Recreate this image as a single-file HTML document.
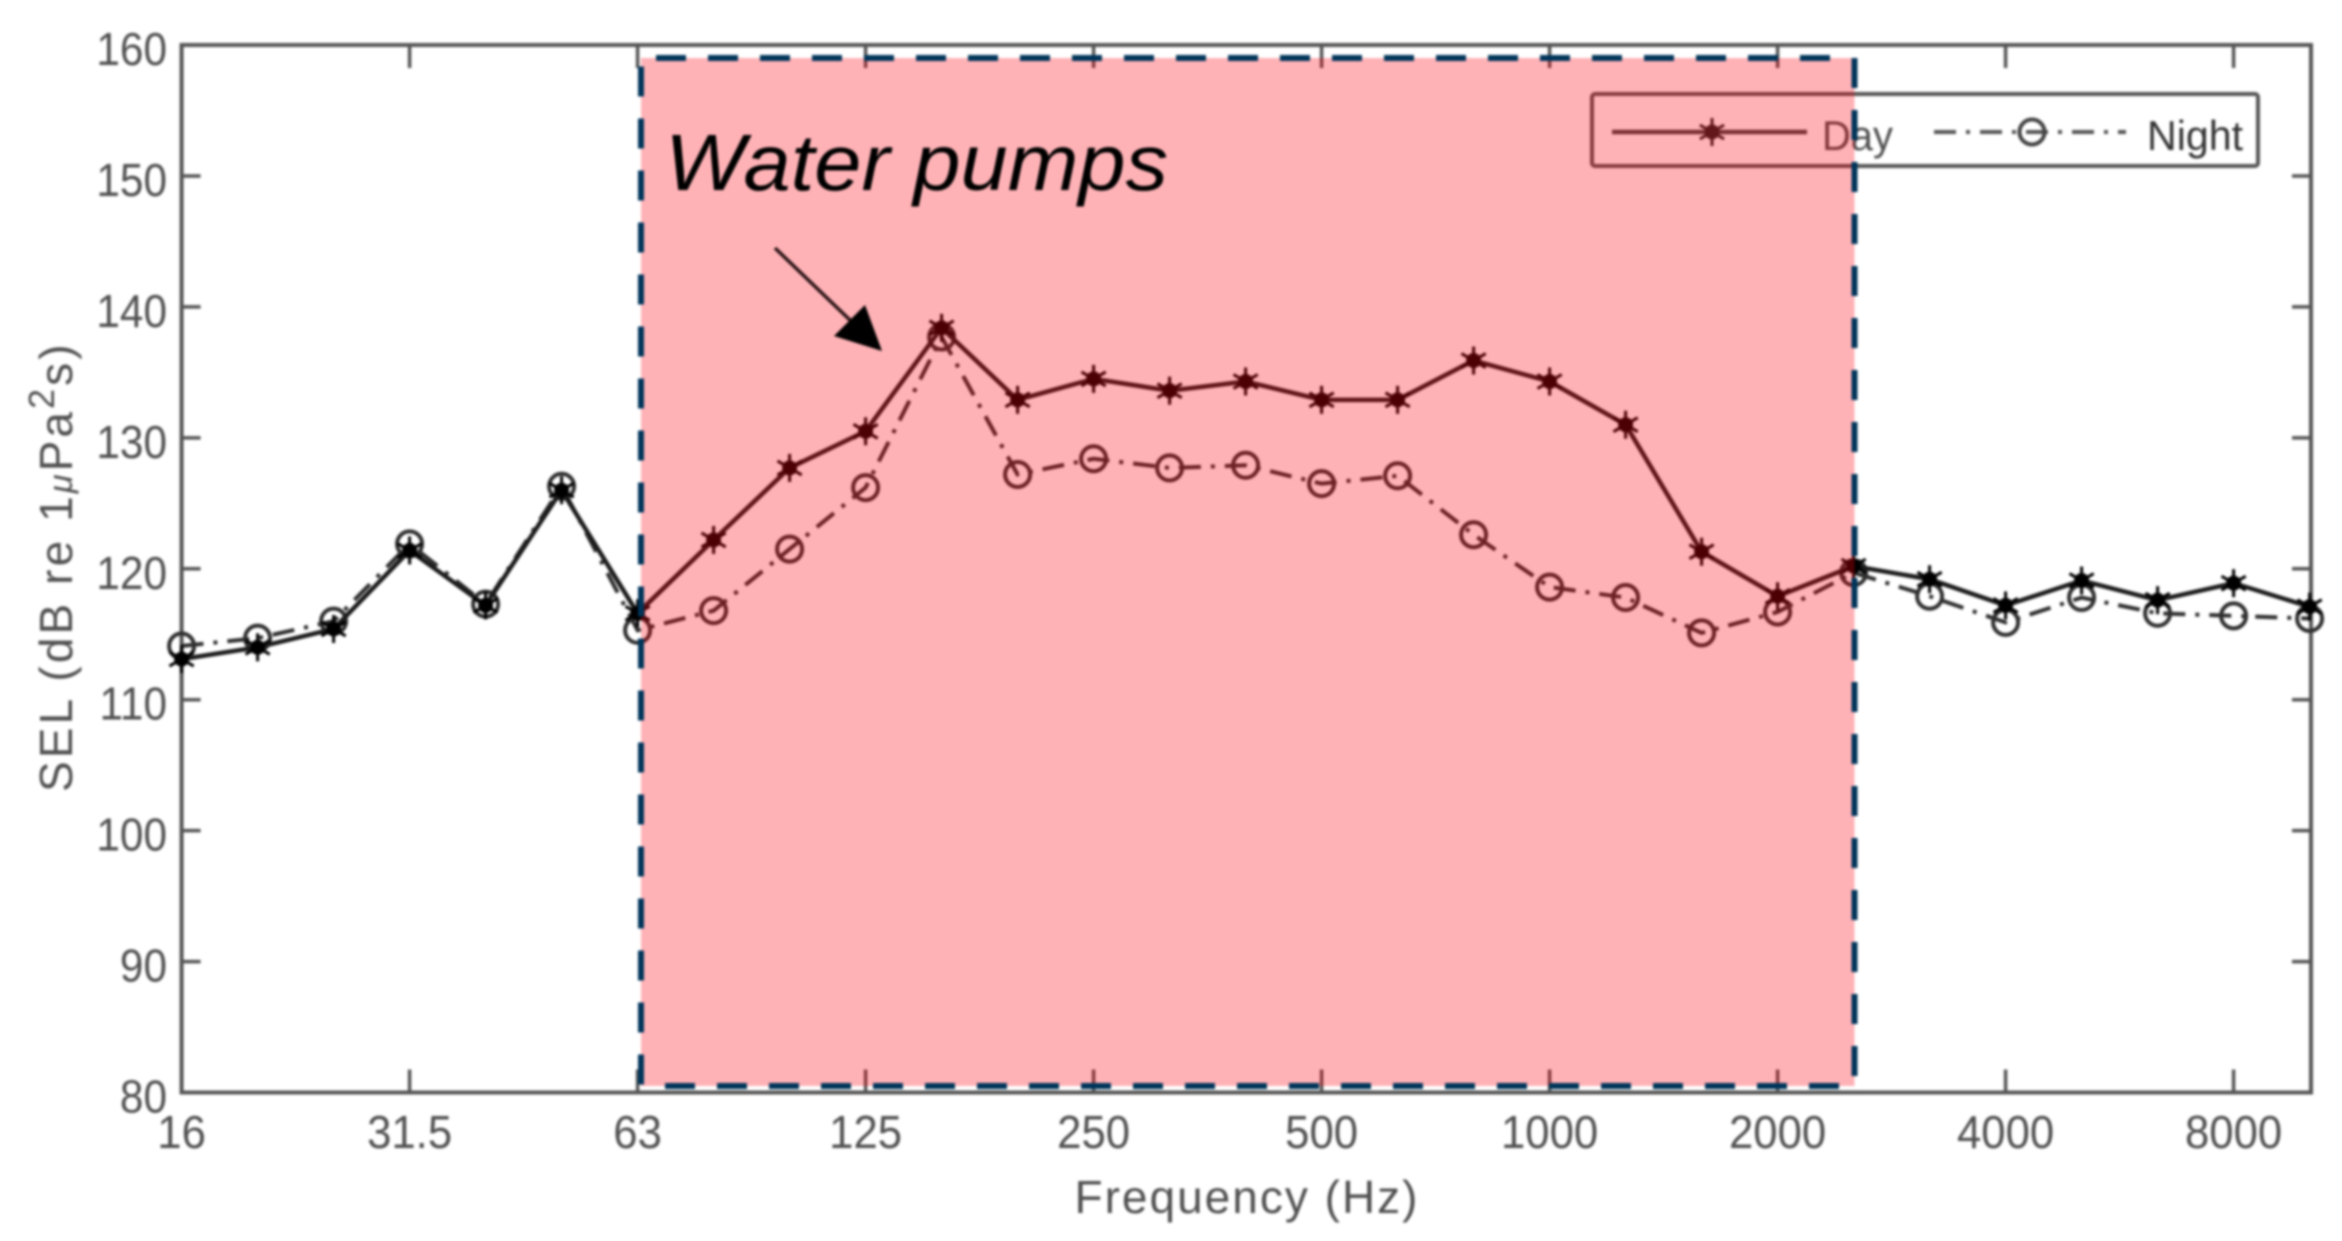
<!DOCTYPE html>
<html lang="en">
<head>
<meta charset="utf-8">
<title>SEL by frequency, day and night</title>
<style>
html,body{margin:0;padding:0;background:#fff;width:2342px;height:1241px;overflow:hidden}
svg{display:block;filter:blur(1.3px)}
text{font-family:"Liberation Sans",sans-serif;fill:#505050}
</style>
</head>
<body>
<svg id="chart" width="2342" height="1241" viewBox="0 0 2342 1241" xmlns="http://www.w3.org/2000/svg">
  <rect x="0" y="0" width="2342" height="1241" fill="#fff"/>
  <g id="axes"></g>
  <g id="night"></g>
  <g id="day"></g>
  <g>
    <rect x="1592" y="94" width="666" height="72" rx="3" fill="none" stroke="#555" stroke-width="4"/>
    <line x1="1612" y1="132" x2="1807" y2="132" stroke="#444" stroke-width="4.5"/>
    <g id="legendDayMarker"></g>
    <text x="1822" y="150" font-size="42" transform="translate(1822 0) scale(.95 1) translate(-1822 0)">Day</text>
    <line x1="1934" y1="132" x2="2126" y2="132" stroke="#555" stroke-width="4" stroke-dasharray="22 10 4 10"/>
    <circle cx="2032" cy="132" r="12.5" fill="none" stroke="#444" stroke-width="4"/>
    <text x="2147" y="150" font-size="42" style="fill:#333" transform="translate(2147 0) scale(.98 1) translate(-2147 0)">Night</text>
  </g>
  <text x="1247" y="1213" font-size="46" letter-spacing="2" text-anchor="middle">Frequency (Hz)</text>
  <text transform="translate(72 792) rotate(-90)" x="0" y="0" font-size="46" letter-spacing="3.1">SEL (dB re 1<tspan font-style="italic" font-size="34">μ</tspan>Pa<tspan dy="-18" font-size="36">2</tspan><tspan dy="18">s)</tspan></text>
  <rect x="641" y="58" width="1213.5" height="1028" fill="rgb(255,0,12)" fill-opacity="0.3"/>
  <g fill="none" stroke="#00355a" stroke-width="6">
    <line x1="656" y1="58" x2="1832" y2="58" stroke-dasharray="30 22"/>
    <line x1="665" y1="1086" x2="1856" y2="1086" stroke-dasharray="30 22"/>
    <line x1="641" y1="66.5" x2="641" y2="1090" stroke-dasharray="30 22"/>
    <line x1="1854.5" y1="58" x2="1854.5" y2="1088" stroke-dasharray="30 22"/>
  </g>
  <text x="665" y="190" font-size="80" font-style="italic" textLength="503" lengthAdjust="spacingAndGlyphs" style="fill:#000">Water pumps</text>
  <g>
    <line x1="775" y1="248" x2="852" y2="322" stroke="#2a1416" stroke-width="3.5"/>
    <polygon points="865,305 882,351 834,336" fill="#000"/>
  </g>
</svg>
<script>
// Chart data
const frequencies = ["16","20","25","31.5","40","50","63","80","100","125","160","200","250","315","400","500","630","800","1000","1250","1600","2000","2500","3150","4000","5000","6300","8000","10000"];
const dayValues = [113.1,114.0,115.4,121.4,117.2,126.0,116.6,122.2,127.7,130.5,138.4,132.9,134.5,133.6,134.3,132.9,132.9,135.9,134.3,131.0,121.3,117.9,120.2,119.2,117.2,119.1,117.6,118.9,117.1];
const nightValues = [114.1,114.7,116.0,121.9,117.3,126.3,115.3,116.8,121.5,126.2,137.7,127.2,128.4,127.7,127.9,126.5,127.1,122.6,118.6,117.8,115.1,116.7,119.7,117.9,115.9,117.8,116.6,116.4,116.2];
const xTickLabels = ["16","31.5","63","125","250","500","1000","2000","4000","8000"];
const yTickLabels = [80,90,100,110,120,130,140,150,160];

const NS = "http://www.w3.org/2000/svg";
const plotLeft = 181.6, plotRight = 2311, plotTop = 45, plotBottom = 1092.5;
const stepX = 76;
const yMin = 80, yMax = 160;

function xScale(i) { return plotLeft + i * stepX; }
function yScale(v) { return plotBottom - (v - yMin) * (plotBottom - plotTop) / (yMax - yMin); }
function make(tag, parent, attrs) {
  const el = document.createElementNS(NS, tag);
  for (const k in attrs) el.setAttribute(k, attrs[k]);
  parent.appendChild(el);
  return el;
}
function starMarker(parent, cx, cy, r, color) {
  const angles = [90, 30, 150];
  angles.forEach(function (deg) {
    const a = deg * Math.PI / 180;
    const ray = make("line", parent, {
      x1: cx - r * Math.cos(a), y1: cy - r * Math.sin(a),
      x2: cx + r * Math.cos(a), y2: cy + r * Math.sin(a),
      stroke: color, "stroke-width": 3
    });
    
    
  });
  const core = make("circle", parent, { cx: cx, cy: cy, r: 7.5, fill: color });
  
  
}

// Axes
const axes = document.getElementById("axes");
const frame = make("rect", axes, {
  x: plotLeft, y: plotTop, width: plotRight - plotLeft, height: plotBottom - plotTop,
  fill: "none", stroke: "#555", "stroke-width": 4
});



yTickLabels.forEach(function (v) {
  const y = yScale(v);
  if (v > yMin && v < yMax) {
    const left = make("line", axes, { x1: plotLeft, y1: y, x2: plotLeft + 19, y2: y, stroke: "#555", "stroke-width": 3.5 });
    
    
    const right = make("line", axes, { x1: plotRight - 19, y1: y, x2: plotRight, y2: y, stroke: "#555", "stroke-width": 3.5 });
    
    
  }
  const label = make("text", axes, {
    "font-size": 46, "text-anchor": "end",
    transform: "translate(167 " + (y + 20) + ") scale(.92 1)"
  });
  
  
  label.textContent = String(v);
});

xTickLabels.forEach(function (name) {
  const x = xScale(frequencies.indexOf(name));
  if (x > plotLeft + 1) {
    const bottom = make("line", axes, { x1: x, y1: plotBottom, x2: x, y2: plotBottom - 23, stroke: "#555", "stroke-width": 3.5 });
    
    
    const top = make("line", axes, { x1: x, y1: plotTop, x2: x, y2: plotTop + 23, stroke: "#555", "stroke-width": 3.5 });
    
    
  }
  const label = make("text", axes, {
    "font-size": 46, "text-anchor": "middle",
    transform: "translate(" + x + " 1148) scale(.95 1)"
  });
  
  
  label.textContent = name;
});

function pathPoints(values) {
  return values.map(function (v, i) { return xScale(i) + "," + yScale(v); }).join(" ");
}

// Night series
const nightGroup = document.getElementById("night");
const nightLine = make("polyline", nightGroup, {
  points: pathPoints(nightValues), fill: "none", stroke: "#2f2f2f",
  "stroke-width": 4, "stroke-dasharray": "22 10 4 10"
});


nightValues.forEach(function (v, i) {
  const c = make("circle", nightGroup, {
    cx: xScale(i), cy: yScale(v), r: 12.5, fill: "none", stroke: "#2f2f2f", "stroke-width": 4
  });
  
  
});

// Day series
const dayGroup = document.getElementById("day");
const dayLine = make("polyline", dayGroup, {
  points: pathPoints(dayValues), fill: "none", stroke: "#1c1c1c", "stroke-width": 4.5
});


dayValues.forEach(function (v, i) {
  const g = make("g", dayGroup, {});
  
  
  starMarker(g, xScale(i), yScale(v), 14, "#000");
});

starMarker(document.getElementById("legendDayMarker"), 1712, 132, 14, "#222");
</script>
</body>
</html>
